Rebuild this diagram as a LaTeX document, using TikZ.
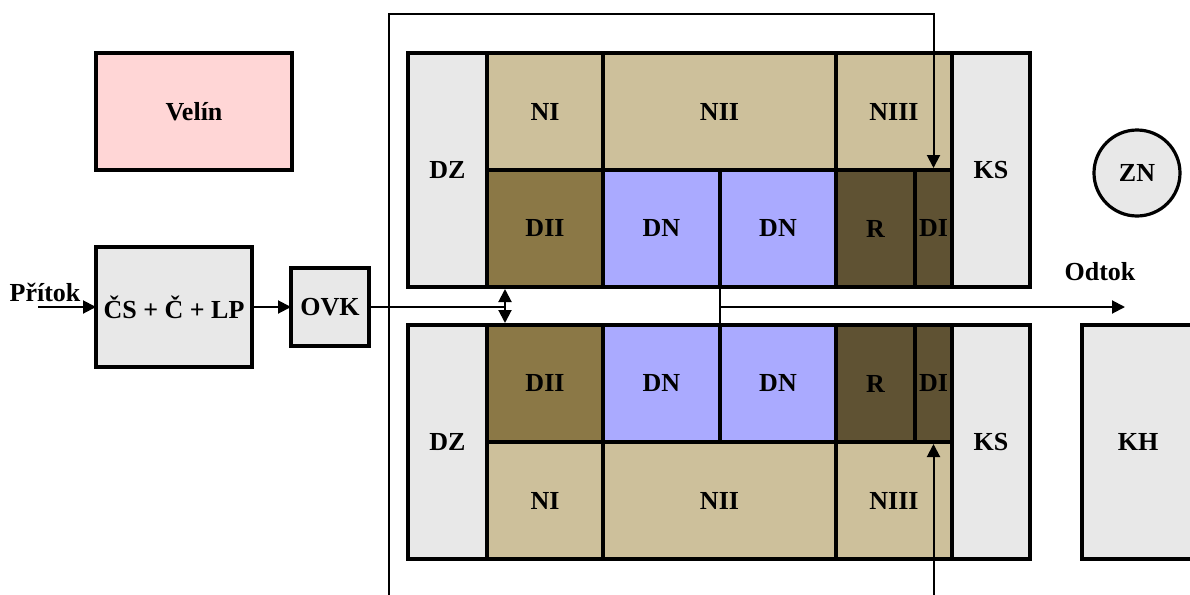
\documentclass[tikz,border=0pt]{standalone}
\usepackage{fontspec}
\setmainfont{Liberation Serif}
\usetikzlibrary{arrows.meta}

\definecolor{boxgray}{RGB}{232,232,232}
\definecolor{velinpink}{RGB}{255,214,214}
\definecolor{ntan}{RGB}{205,192,155}
\definecolor{diibrown}{RGB}{139,120,70}
\definecolor{dnblue}{RGB}{170,170,255}
\definecolor{rdark}{RGB}{95,82,51}

\begin{document}
\begin{tikzpicture}[x=0.5pt,y=0.5pt,yscale=-1,xscale=1,
        cell/.style={draw, line width=2.2pt, inner sep=0pt, outer sep=0pt, anchor=north west,
            font=\fontsize{13}{15}\selectfont\bfseries},
        flow/.style={line width=1pt},
        tip/.style={-{Triangle[length=6.5pt,width=6.5pt]}},
        lbl/.style={inner sep=0pt, font=\fontsize{13}{15}\selectfont\bfseries}]
        \useasboundingbox (0,0) rectangle (1190,595);

        %Shape: Rectangle [Velin]
        \node [cell, fill=velinpink, minimum width=98pt, minimum height=58.5pt] (velin) at (96,53) {Velín};
        %Shape: Rectangle [CS + C + LP]
        \node [cell, fill=boxgray, minimum width=78pt, minimum height=60pt] (cs) at (96,247) {ČS + Č + LP};
        %Shape: Rectangle [OVK]
        \node [cell, fill=boxgray, minimum width=39pt, minimum height=39pt] (ovk) at (291,268) {OVK};

        %Shape: Cells [upper line]
        \node [cell, fill=boxgray, minimum width=39.5pt, minimum height=117pt] (dz1) at (408,53) {DZ};
        \node [cell, fill=ntan, minimum width=58pt, minimum height=58.5pt] (ni1) at (487,53) {NI};
        \node [cell, fill=ntan, minimum width=116.5pt, minimum height=58.5pt] (nii1) at (603,53) {NII};
        \node [cell, fill=ntan, minimum width=58pt, minimum height=58.5pt] (niii1) at (836,53) {NIII};
        \node [cell, fill=boxgray, minimum width=39pt, minimum height=117pt] (ks1) at (952,53) {KS};
        \node [cell, fill=diibrown, minimum width=58pt, minimum height=58.5pt] (dii1) at (487,170) {DII};
        \node [cell, fill=dnblue, minimum width=58.5pt, minimum height=58.5pt] (dna1) at (603,170) {DN};
        \node [cell, fill=dnblue, minimum width=58pt, minimum height=58.5pt] (dnb1) at (720,170) {DN};
        \node [cell, fill=rdark, minimum width=39.5pt, minimum height=58.5pt] (r1) at (836,170) {R};
        \node [cell, fill=rdark, minimum width=18.5pt, minimum height=58.5pt] (di1) at (915,170) {DI};

        %Shape: Cells [lower line]
        \node [cell, fill=boxgray, minimum width=39.5pt, minimum height=117pt] (dz2) at (408,325) {DZ};
        \node [cell, fill=diibrown, minimum width=58pt, minimum height=58.5pt] (dii2) at (487,325) {DII};
        \node [cell, fill=dnblue, minimum width=58.5pt, minimum height=58.5pt] (dna2) at (603,325) {DN};
        \node [cell, fill=dnblue, minimum width=58pt, minimum height=58.5pt] (dnb2) at (720,325) {DN};
        \node [cell, fill=rdark, minimum width=39.5pt, minimum height=58.5pt] (r2) at (836,325) {R};
        \node [cell, fill=rdark, minimum width=18.5pt, minimum height=58.5pt] (di2) at (915,325) {DI};
        \node [cell, fill=ntan, minimum width=58pt, minimum height=58.5pt] (ni2) at (487,442) {NI};
        \node [cell, fill=ntan, minimum width=116.5pt, minimum height=58.5pt] (nii2) at (603,442) {NII};
        \node [cell, fill=ntan, minimum width=58pt, minimum height=58.5pt] (niii2) at (836,442) {NIII};
        \node [cell, fill=boxgray, minimum width=39pt, minimum height=117pt] (ks2) at (952,325) {KS};

        %Shape: Circle [ZN]
        \node [draw, circle, line width=1.6pt, fill=boxgray, minimum size=43pt, inner sep=0pt,
            font=\fontsize{13}{15}\selectfont\bfseries] (zn) at (1137,173) {ZN};
        %Shape: Rectangle [KH]
        \node [cell, fill=boxgray, minimum width=56pt, minimum height=117pt] (kh) at (1082,325) {KH};

        % Text Node
        \node [lbl] (pritok) at (45,292) {Přítok};
        % Text Node
        \node [lbl] (odtok) at (1100,272) {Odtok};

        %Coordinates
        \coordinate (inflow) at (38,307);
        \coordinate (split) at (505,307);
        \coordinate (splittop) at (505,287);
        \coordinate (splitbot) at (505,325);
        \coordinate (outmid) at (720,307);
        \coordinate (outflow) at (1125,307);
        \coordinate (loopfoot) at (389,600);
        \coordinate (looptop) at (389,14);

        %Straight Lines [flow]
        \draw [flow, tip] (inflow) -- (inflow -| cs.west);
        \draw [flow, tip] (cs.east) -- (ovk.west);
        \draw [flow] (ovk.east) -- (split);
        \draw [flow, {Triangle[length=6.5pt,width=6.5pt]}-{Triangle[length=6.5pt,width=6.5pt]}, shorten <=1pt, shorten >=1pt] (splittop) -- (splitbot);
        \draw [flow] (dnb1.south west) -- (dnb2.north west);
        \draw [flow, tip] (outmid) -- (outflow);
        %Straight Lines [return loop]
        \draw [flow, tip, shorten >=1pt] (loopfoot) -- (looptop) -- (looptop -| di1.north) -- (di1.north);
        \draw [flow, tip, shorten >=1pt] (di2.south |- loopfoot) -- (di2.south);

\end{tikzpicture}
\end{document}
